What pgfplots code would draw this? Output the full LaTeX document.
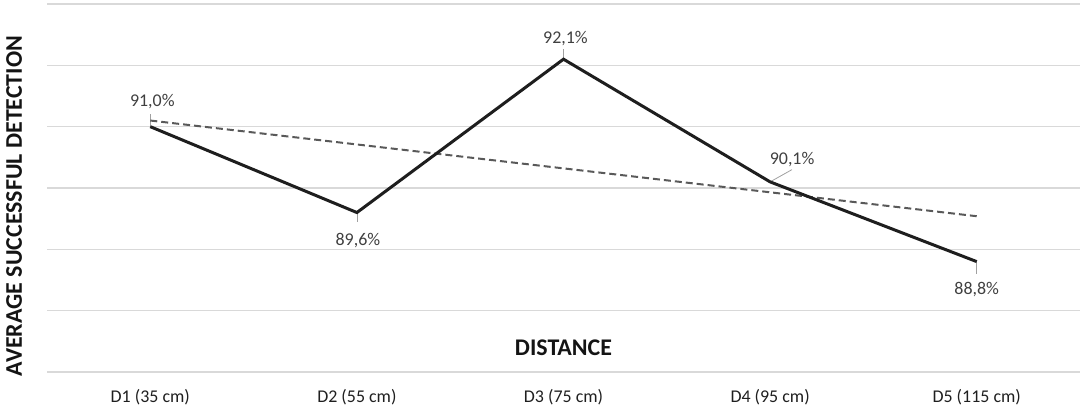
\documentclass[border=0pt]{standalone}
\usepackage{pgfplots}
\pgfplotsset{compat=1.18}
\usepackage{fontspec}
\setmainfont{Carlito}
\definecolor{gridc}{RGB}{217,217,217}
\definecolor{linec}{RGB}{30,30,30}
\definecolor{trendc}{RGB}{89,89,89}
\definecolor{labc}{RGB}{64,64,64}
\definecolor{leadc}{RGB}{160,160,160}
\begin{document}
\begin{tikzpicture}
\begin{axis}[
  scale only axis, width=1033bp, height=368bp,
  xmin=-0.5, xmax=4.5, ymin=87, ymax=93,
  xtick={0,...,4},
  xticklabels={D1 (35 cm),D2 (55 cm),D3 (75 cm),D4 (95 cm),D5 (115 cm)},
  ytick={87,...,93}, yticklabels={},
  ymajorgrids, grid style={gridc, line width=1.3bp},
  axis line style={draw=none},
  major tick length=0pt,
  tick label style={font=\fontsize{18}{22}\selectfont, text=black!88},
  xticklabel style={anchor=base, yshift=-30bp},
  clip=false,
  /pgf/number format/assume math mode=true,
  xlabel={DISTANCE},
  xlabel style={at={(axis description cs:0.5,0)}, anchor=base, yshift=17bp,
    font=\bfseries\fontsize{24}{28}\selectfont, text=black!92},
]
% leader lines
\addplot[leadc, line width=0.8bp, quiver={u=\thisrow{u}, v=\thisrow{v}}] table {
x y u v
0 91.0 0 0.20
1 89.6 0 -0.16
2 92.1 0 0.16
3 90.1 0.106 0.20
4 88.8 0 -0.21
};
% trend line
\addplot[trendc, line width=2bp, dash pattern=on 7bp off 4bp] coordinates {(0,91.10) (4,89.54)};
% main series
\addplot[linec, line width=3bp, line join=miter,
  point meta=y,
  visualization depends on={value \thisrow{dx} \as \dx},
  visualization depends on={value \thisrow{dy} \as \dy},
  nodes near coords={\pgfmathprintnumber[fixed,fixed zerofill,precision=1,use comma]{\pgfplotspointmeta}\%},
  every node near coord/.append style={anchor=base, xshift=\dx bp, yshift=\dy bp,
     font=\fontsize{18}{22}\selectfont, text=labc, inner sep=0pt},
] table {
x y dx dy
0 91.0 2 20
1 89.6 1 -33
2 92.1 2 16
3 90.1 22 17
4 88.8 0 -33
};
\end{axis}
\node[rotate=90, font=\bfseries\fontsize{24}{28}\selectfont, text=black!92, anchor=center, inner sep=0pt]
  at ([xshift=-33bp,yshift=-18bp]current axis.west) {AVERAGE SUCCESSFUL DETECTION};
\pgfresetboundingbox
\path ([xshift=-47bp,yshift=-36bp]current axis.south west) rectangle ([xshift=4bp,yshift=4bp]current axis.north east);
\end{tikzpicture}
\end{document}
